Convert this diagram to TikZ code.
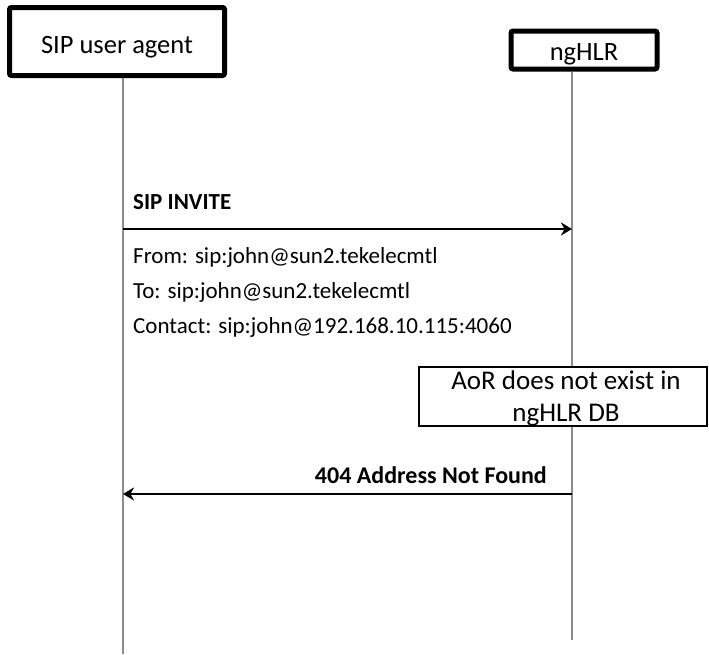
\documentclass[tikz,border=0pt]{standalone}
\usepackage{fontspec}
\setmainfont{Carlito}
\usetikzlibrary{arrows.meta}
\begin{document}
\begin{tikzpicture}[x=1pt,y=-1pt,
  actor/.style={draw=black,line width=5pt,rounded corners=2pt,fill=white,
    inner sep=0pt,text depth=0pt,font=\fontsize{26.5}{32}\selectfont},
  lifeline/.style={draw=black!45,line width=2pt},
  note/.style={draw=black,line width=2pt,fill=white,inner sep=0pt,align=center,
    font=\fontsize{27}{32}\selectfont},
  msg/.style={draw=black,line width=2pt,-{Stealth[length=11pt,width=13pt,inset=3.5pt]}},
  msglabel/.style={inner sep=0pt,font=\fontsize{23}{28}\selectfont\bfseries},
  param/.style={inner sep=0pt,anchor=base west,font=\fontsize{23}{28}\selectfont},
]
\useasboundingbox (0,0) rectangle (709,654);

% lifeline end points
\coordinate (ua-top) at (123,78);
\coordinate (ua-bot) at (123,654);
\coordinate (hlr-top) at (572,72);
\coordinate (hlr-bot) at (572,640);

% lifelines
\draw[lifeline] (ua-top) -- (ua-bot);
\draw[lifeline] (hlr-top) -- (hlr-bot);

% participants
\node[actor,minimum width=215pt,minimum height=68pt,text height=23pt] (ua) at (117,41.5) {SIP user agent};
\node[actor,minimum width=146pt,minimum height=38pt,text height=20pt] (hlr) at (584,50) {ngHLR};

% SIP INVITE request
\coordinate (inv-a) at (123,229);
\coordinate (inv-b) at (572,229);
\draw[msg] (inv-a) -- (inv-b);
\node[msglabel,anchor=base west] (inv-label) at (133,209) {SIP INVITE};
\node[param] (p-from) at (133,263) {From: sip:john@sun2.tekelecmtl};
\node[param] (p-to) at (133,298) {To: sip:john@sun2.tekelecmtl};
\node[param] (p-contact) at (133,333) {Contact: sip:john@192.168.10.115:4060};

% lookup result
\node[note,minimum width=288pt,minimum height=59pt,text depth=0pt] (aor) at (563,396.5)
  {\hspace*{6pt}AoR does not exist in\\\hspace*{6pt}ngHLR DB};

% 404 response
\coordinate (nf-a) at (572,494);
\coordinate (nf-b) at (123,494);
\draw[msg] (nf-a) -- (nf-b);
\node[msglabel,anchor=base east,font=\fontsize{24}{28}\selectfont\bfseries] (nf-label) at (547,483) {404 Address Not Found};
\end{tikzpicture}
\end{document}
